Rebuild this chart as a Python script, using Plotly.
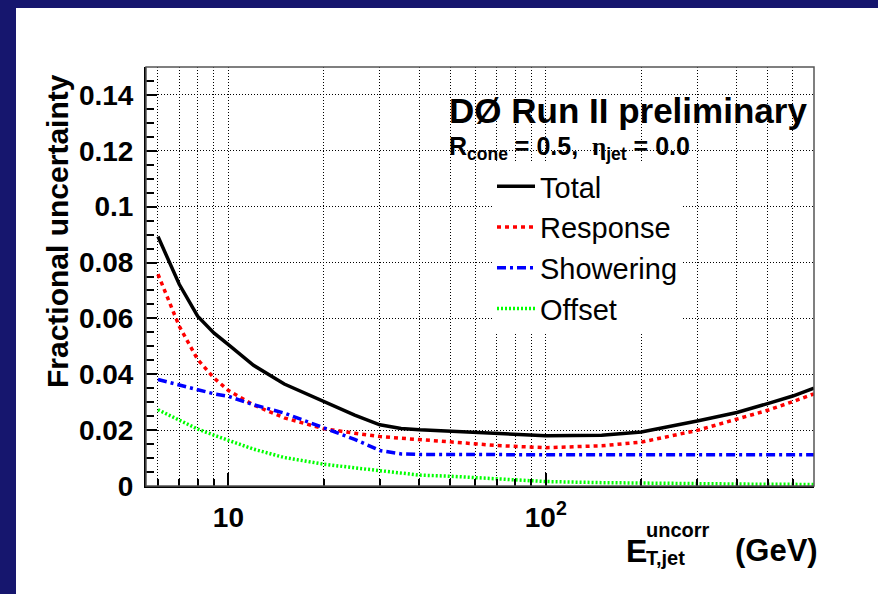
import plotly.graph_objects as go

# Uncorrected jet transverse energy (GeV) at which the uncertainties are sampled
et_gev = [6, 7, 8, 9, 10, 12, 15, 20, 25, 30, 35, 40, 50, 70,
          100, 150, 200, 300, 400, 500, 600, 700]

# Fractional jet energy scale uncertainties, R_cone = 0.5, eta_jet = 0.0
total = [0.0893, 0.0722, 0.0608, 0.0548, 0.0506, 0.0432, 0.0365, 0.0303,
         0.0254, 0.0219, 0.0206, 0.0201, 0.0196, 0.0188, 0.0180, 0.0182,
         0.0193, 0.0233, 0.0263, 0.0295, 0.0322, 0.0350]
response = [0.0758, 0.0572, 0.0453, 0.0387, 0.0342, 0.0290, 0.0244, 0.0205,
            0.0189, 0.0177, 0.0171, 0.0165, 0.0158, 0.0145, 0.0137, 0.0144,
            0.0157, 0.0199, 0.0238, 0.0271, 0.0302, 0.0330]
showering = [0.0381, 0.0361, 0.0344, 0.0330, 0.0321, 0.0291, 0.0261, 0.0207,
             0.0167, 0.0127, 0.0115, 0.0113, 0.0112, 0.0112, 0.0112, 0.0112,
             0.0112, 0.0112, 0.0112, 0.0112, 0.0112, 0.0112]
offset = [0.0273, 0.0237, 0.0204, 0.0182, 0.0163, 0.0132, 0.0102, 0.0078,
          0.0065, 0.0055, 0.0046, 0.0039, 0.0035, 0.0026, 0.0016, 0.0012,
          0.0010, 0.0008, 0.0007, 0.0006, 0.0006, 0.0005]

# Axis ticks
x_major = [10, 100]
x_major_text = ["10", "10<sup>2</sup>"]
x_minor = [6, 7, 8, 9, 20, 30, 40, 50, 60, 70, 80, 90,
           200, 300, 400, 500, 600, 700]
y_major = [0, 0.02, 0.04, 0.06, 0.08, 0.10, 0.12, 0.14]
y_major_text = ["0", "0.02", "0.04", "0.06", "0.08", "0.1", "0.12", "0.14"]

# Canvas geometry
W, H = 878, 594
ML, MR, MT, MB = 146, 64, 67, 108
PW, PH = W - ML - MR, H - MT - MB

def px(x):
    return (x - ML) / PW

def py(y):
    return 1 - (y - MT) / PH

FONT = "Liberation Sans"
NAVY = "#16166e"

fig = go.Figure()

series = [
    ("Total", total, dict(color="black", width=3.5, dash="solid")),
    ("Response", response, dict(color="#ff0000", width=3.5, dash="4px,4px")),
    ("Showering", showering, dict(color="#0000ff", width=3.5, dash="9px,4px,3px,4px")),
    ("Offset", offset, dict(color="#00ff00", width=3.5, dash="2px,2px")),
]
for i, (name, vals, line) in enumerate(series):
    fig.add_trace(go.Scatter(x=et_gev, y=vals, mode="lines", name=name,
                             line=line, legendgroup=str(i)))

grid = dict(showgrid=True, gridcolor="black", gridwidth=1, griddash="1px,2px")

fig.update_xaxes(
    type="log", range=[0.74036, 2.845098],
    tickmode="array", tickvals=x_major, ticktext=x_major_text,
    ticks="inside", ticklen=13, tickwidth=1.5, tickcolor="black",
    showline=True, linecolor="black", linewidth=2,
    tickfont=dict(family=FONT, size=28, color="black", weight="bold"),
    ticklabelstandoff=5,
    minor=dict(tickmode="array", tickvals=x_minor, ticks="inside", ticklen=7,
               tickwidth=1.5, tickcolor="black", **grid),
    zeroline=False, **grid,
)
fig.update_yaxes(
    range=[0, 0.15],
    tickmode="array", tickvals=y_major, ticktext=y_major_text,
    ticks="inside", ticklen=11, tickwidth=1.5, tickcolor="black",
    showline=True, linecolor="black", linewidth=2,
    tickfont=dict(family=FONT, size=28, color="black", weight="bold"),
    ticklabelstandoff=5,
    minor=dict(dtick=0.005, ticks="inside", ticklen=8, tickwidth=1.5,
               tickcolor="black", showgrid=False),
    zeroline=False, **grid,
)

shapes = [
    # frame around the pad
    dict(type="rect", xref="paper", yref="paper", x0=0, x1=1, y0=0, y1=1,
         line=dict(color="#555555", width=1.5), layer="above"),
    # navy slide border (left and top)
    dict(type="rect", xref="paper", yref="paper", x0=px(0), x1=px(16),
         y0=py(H), y1=py(0), fillcolor=NAVY, line=dict(width=0), layer="below"),
    dict(type="rect", xref="paper", yref="paper", x0=px(0), x1=px(W),
         y0=py(8), y1=py(0), fillcolor=NAVY, line=dict(width=0), layer="below"),
]

def label(text, x, y, size, xanchor="left", yanchor="middle", angle=0, bold=True):
    return dict(text=text, xref="paper", yref="paper", x=px(x), y=py(y),
                xanchor=xanchor, yanchor=yanchor, textangle=angle,
                showarrow=False,
                font=dict(family=FONT, size=size, color="black",
                          weight="bold" if bold else "normal"))

annotations = [
    label("Fractional uncertainty", 57, 72, 30, xanchor="center", yanchor="top", angle=-90),
    label("DØ Run II preliminary", 447, 111, 35),
    label("R<sub>cone</sub> = 0.5,  "
          "<span style='font-family:Liberation Serif'>η</span>"
          "<sub>jet</sub> = 0.0", 447, 148, 25),
    label("E", 624, 551, 32),
    label("uncorr", 644, 530, 20),
    label("T,jet", 644, 558, 20),
    label("(GeV)", 733, 550, 31),
]

fig.update_layout(
    width=W, height=H,
    margin=dict(l=ML, r=MR, t=MT, b=MB),
    paper_bgcolor="white", plot_bgcolor="white",
    shapes=shapes, annotations=annotations,
    showlegend=True,
    legend=dict(x=px(492), y=py(161), xanchor="left", yanchor="top",
                bgcolor="white", borderwidth=0,
                font=dict(family=FONT, size=29, color="black"),
                tracegroupgap=0, itemwidth=38),
)

fig.write_html("out.html")
